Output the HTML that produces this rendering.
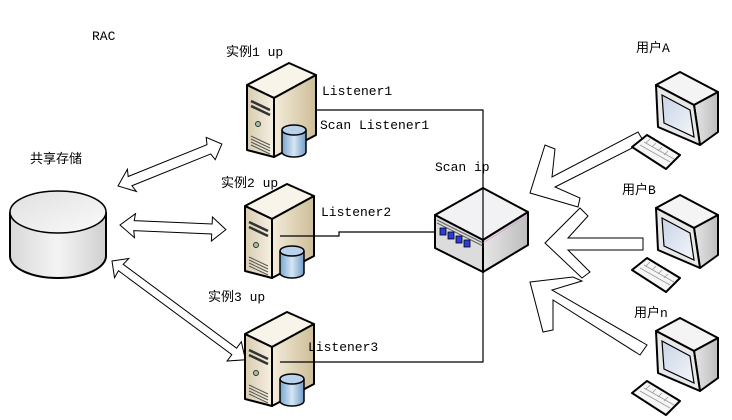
<!DOCTYPE html>
<html><head><meta charset="utf-8"><style>
html,body{margin:0;padding:0;background:#fff;}
svg{display:block;}
text{font-family:"Liberation Mono","Noto Sans CJK SC",monospace;font-size:13px;fill:#000;}
</style></head><body>
<svg width="732" height="420" viewBox="0 0 732 420" xmlns="http://www.w3.org/2000/svg">
<defs>
<linearGradient id="cyl" x1="0" x2="1"><stop offset="0" stop-color="#d8d8d8"/><stop offset="0.5" stop-color="#f4f4f4"/><stop offset="1" stop-color="#cfcfcf"/></linearGradient>
<linearGradient id="cylTop" x1="0" y1="0" x2="1" y2="1"><stop offset="0" stop-color="#e0e0e0"/><stop offset="1" stop-color="#fafafa"/></linearGradient>
<linearGradient id="front" x1="0" x2="1"><stop offset="0" stop-color="#d8ccb0"/><stop offset="1" stop-color="#f6f0e2"/></linearGradient>
<linearGradient id="side" x1="0" x2="1"><stop offset="0" stop-color="#f4ecda"/><stop offset="1" stop-color="#cdbd98"/></linearGradient>
<linearGradient id="blue" x1="0" x2="1"><stop offset="0" stop-color="#7aa6d0"/><stop offset="0.5" stop-color="#d6e6f4"/><stop offset="1" stop-color="#6f9cc8"/></linearGradient>
<linearGradient id="grey" x1="0" x2="1"><stop offset="0" stop-color="#e6e6e6"/><stop offset="1" stop-color="#bdbdbd"/></linearGradient>
<linearGradient id="screen" x1="0" y1="0" x2="1" y2="1"><stop offset="0" stop-color="#c9d4e6"/><stop offset="1" stop-color="#f4f6fa"/></linearGradient>
<g id="server">
<polygon points="1,23 43,1 70,13 28,36" fill="#f8f4ea" stroke="#000" stroke-width="2" stroke-linejoin="round"/>
<polygon points="1,23 28,36 28,95 1,88" fill="url(#front)" stroke="#000" stroke-width="2" stroke-linejoin="round"/>
<polygon points="28,36 70,13 70,73 28,95" fill="url(#side)" stroke="#000" stroke-width="2" stroke-linejoin="round"/>
<path d="M5,39 L24,48 M5,44 L24,53" stroke="#333" stroke-width="2.5"/>
<circle cx="12" cy="62" r="2.5" fill="#9fc4a8" stroke="#333"/>
<path d="M5,74 L24,83 M5,77 L24,86 M5,80 L24,89 M5,83 L24,92" stroke="#555" stroke-width="1"/>
<path d="M36,68 L36,90 A12,5 0 0 0 60,90 L60,68" fill="url(#blue)" stroke="#000" stroke-width="1.5"/>
<ellipse cx="48" cy="68" rx="12" ry="5" fill="#b9d2ea" stroke="#000" stroke-width="1.5"/>
</g>
<g id="pc">
<polygon points="36,20 60,7 98,27 74,40" fill="#f4f4f4" stroke="#000" stroke-width="2" stroke-linejoin="round"/>
<polygon points="74,40 98,27 98,67 80,80" fill="url(#grey)" stroke="#000" stroke-width="2" stroke-linejoin="round"/>
<polygon points="36,20 74,40 80,80 38,62" fill="#e8e8e8" stroke="#000" stroke-width="2" stroke-linejoin="round"/>
<polygon points="42,30 70,45 74,72 44,58" fill="url(#screen)" stroke="#000" stroke-width="1.2"/>
<polygon points="12,82 27,70 60,90 46,104" fill="#f6f6f6" stroke="#000" stroke-width="2" stroke-linejoin="round"/>
<path d="M20,80 L50,97 M24,77 L54,94 M30,74 L26,78 M36,78 L32,82 M42,82 L38,86 M48,86 L44,90" stroke="#999" stroke-width="0.8"/>
</g>
</defs>

<!-- cylinder storage -->
<path d="M10,212 L10,256 A48,22 0 0 0 106,256 L106,212" fill="url(#cyl)" stroke="#000" stroke-width="2"/>
<ellipse cx="58" cy="212" rx="48" ry="21" fill="url(#cylTop)" stroke="#000" stroke-width="1.5"/>

<!-- double arrows -->
<g fill="#fff" stroke="#000" stroke-width="1">
<g transform="translate(118,186) rotate(-22)"><polygon points="0,0 15,-12 13,-5 98,-5 100,-12 112,0 100,12 98,5 13,5 15,12"/></g>
<g transform="translate(120,225) rotate(2.5)"><polygon points="0,0 15,-12 14,-5 92,-5 92,-12 106,0 92,12 92,5 14,5 15,12"/></g>
<g transform="translate(112,261) rotate(36.5)"><polygon points="0,0 12,-12 11,-4 152,-4 152,-12 166,0 152,12 152,4 11,4 12,12"/></g>
</g>

<!-- servers -->
<use href="#server" x="246" y="62"/>
<use href="#server" x="244" y="183"/>
<use href="#server" x="244" y="311"/>

<!-- connector lines -->
<g stroke="#000" stroke-width="1.2" fill="none">
<polyline points="317,110 483,110 483,362 280,362"/>
<polyline points="280,236 339,236 339,232 483,232"/>
</g>

<!-- switch -->
<polygon points="483,188 435,215 483,240 528,212" fill="#f2f2f4" stroke="#000" stroke-width="2" stroke-linejoin="round"/>
<polygon points="435,215 483,240 483,272 435,248" fill="#dcdcdc" stroke="#000" stroke-width="2" stroke-linejoin="round"/>
<polygon points="483,240 528,212 528,245 483,272" fill="url(#grey)" stroke="#000" stroke-width="2" stroke-linejoin="round"/>
<path d="M437,220 L483,243 M437,223 L483,246" stroke="#666" stroke-width="1"/>
<path d="M483,243 L527,216" stroke="#e0a0e0" stroke-width="0.8"/>
<g fill="#2a3de0" stroke="#000" stroke-width="0.8">
<rect x="440" y="228" width="6" height="7"/><rect x="448" y="232" width="6" height="7"/>
<rect x="456" y="236" width="6" height="7"/><rect x="464" y="240" width="6" height="7"/>
</g>
<line x1="483" y1="188" x2="483" y2="272" stroke="#000" stroke-width="1.2"/>

<!-- big block arrows from users -->
<g fill="#fff" stroke="#000" stroke-width="1" stroke-linejoin="miter">
<polygon points="530,193 545,145 555,149 552,177 638,132 644,142 555,187 580,198 578,207"/>
<polygon points="545,243 580,208 588,216 568,238 643,238 643,250 568,250 590,272 582,278"/>
<polygon points="530,282 573,277 582,281 552,290 647,345 640,355 553,300 553,330 543,332"/>
</g>

<!-- computers -->
<use href="#pc" x="620" y="65"/>
<use href="#pc" x="620" y="188"/>
<use href="#pc" x="620" y="311"/>

<!-- labels -->
<text x="92" y="40">RAC</text>
<text x="226" y="56">实例1 up</text>
<text x="322" y="95">Listener1</text>
<text x="320" y="129">Scan Listener1</text>
<text x="30" y="163">共享存储</text>
<text x="221" y="187">实例2 up</text>
<text x="321" y="216">Listener2</text>
<text x="435" y="171">Scan ip</text>
<text x="208" y="301">实例3 up</text>
<text x="308" y="351">Listener3</text>
<text x="636" y="52">用户A</text>
<text x="622" y="194">用户B</text>
<text x="634" y="317">用户n</text>
</svg>
</body></html>
